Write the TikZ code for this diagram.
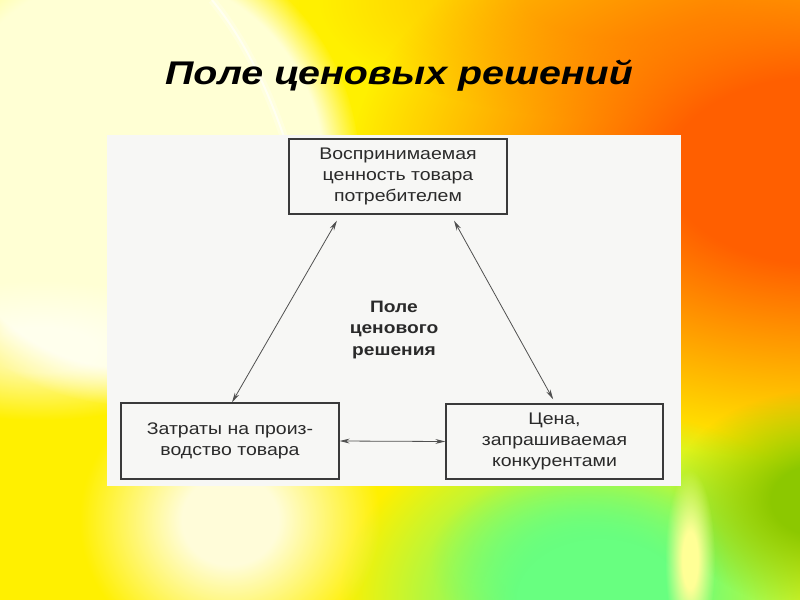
\documentclass[tikz,border=0pt]{standalone}
\usepackage{fontspec}
\setmainfont{Liberation Sans}
\newfontfamily\boxfont[FakeStretch=1.16]{Liberation Sans}
\newfontfamily\titlefont[FakeStretch=1.2]{Liberation Sans}
\usetikzlibrary{arrows.meta,fadings}
\pgfdeclareradialshading{softglowshade}{\pgfpointorigin}{color(0bp)=(pgftransparent!0); color(8bp)=(pgftransparent!0); color(25bp)=(pgftransparent!100); color(50bp)=(pgftransparent!100)}
\pgfdeclarefading{softglow}{\pgfuseshading{softglowshade}}
\pgfdeclareradialshading{hardglowshade}{\pgfpointorigin}{color(0bp)=(pgftransparent!0); color(21bp)=(pgftransparent!0); color(25bp)=(pgftransparent!100); color(50bp)=(pgftransparent!100)}
\pgfdeclarefading{hardglow}{\pgfuseshading{hardglowshade}}
\definecolor{bgyellow}{RGB}{255,240,0}
\definecolor{bgorange}{RGB}{255,95,0}
\definecolor{bgamber}{RGB}{255,170,0}
\definecolor{bggreen}{RGB}{104,255,128}
\definecolor{bgdgreen}{RGB}{140,200,0}
\definecolor{bgpale}{RGB}{255,255,212}
\definecolor{bgpaleyel}{RGB}{255,255,150}
\definecolor{panelc}{RGB}{247,247,245}
\definecolor{inkc}{RGB}{42,42,42}
\definecolor{framec}{RGB}{58,58,58}
\definecolor{linec}{RGB}{80,80,80}
\tikzset{
  box/.style={draw=framec, line width=0.9pt, fill=panelc, text=inkc, align=center,
    font=\boxfont\fontsize{12.6pt}{15.9pt}\selectfont, inner sep=0pt},
  centertext/.style={text=inkc, align=center,
    font=\boxfont\bfseries\fontsize{12.4pt}{15.9pt}\selectfont},
  dblarrow/.style={draw=linec, line width=0.6pt,
    {Stealth[length=7.5pt,width=3.6pt]}-{Stealth[length=7.5pt,width=3.6pt]}},
  titletext/.style={font=\titlefont\bfseries\itshape\fontsize{24.6pt}{29pt}\selectfont, text=black}
}
\begin{document}
\begin{tikzpicture}[x=0.75pt,y=-0.75pt]
\useasboundingbox (0,0) rectangle (800,600);
\begin{scope}
\clip (0,0) rectangle (800,600);
% background
\fill[bgyellow] (0,0) rectangle (800,600);
\fill[bgpaleyel, path fading=softglow] (0,0) ellipse [x radius=300, y radius=260];
\fill[bgamber, path fading=softglow, opacity=0.7] (620,0) ellipse [x radius=300, y radius=120];
\fill[bgorange, path fading=softglow] (820,170) ellipse [x radius=470, y radius=290];
\fill[bggreen, path fading=softglow] (600,600) ellipse [x radius=260, y radius=190];
\fill[bggreen, path fading=softglow, opacity=0.8] (580,560) ellipse [x radius=150, y radius=90];
\fill[bgdgreen, path fading=softglow] (820,500) ellipse [x radius=150, y radius=110];
\fill[bgpale, path fading=hardglow] (130,170) ellipse [x radius=230, y radius=235];
\fill[white, path fading=softglow, opacity=0.6] (40,350) ellipse [x radius=170, y radius=70];
\fill[white, path fading=softglow, opacity=0.85] (230,520) ellipse [x radius=150, y radius=140];
\fill[bgpaleyel, path fading=softglow] (690,560) ellipse [x radius=25, y radius=90];
\draw[white, line width=6pt, opacity=0.25] (212,0) .. controls (245,40) and (268,90) .. (285,140);
\draw[white, line width=1.5pt, opacity=0.6] (212,0) .. controls (245,40) and (268,90) .. (285,140);
\end{scope}
% title
\node[titletext, anchor=base] (title) at (399,84) {Поле ценовых решений};
% panel
\fill[panelc] (107,135) rectangle (681,486);
% boxes
\node[box, minimum width=218*0.75pt, minimum height=75*0.75pt] (top) at (398,176.5)
  {Воспринимаемая\\ценность товара\\потребителем};
\node[box, minimum width=218*0.75pt, minimum height=76*0.75pt] (left) at (230,441)
  {Затраты на произ-\\водство товара};
\node[box, minimum width=217*0.75pt, minimum height=75*0.75pt] (right) at (554.5,441.5)
  {Цена,\\запрашиваемая\\конкурентами};
\node[centertext] (center) at (394,330) {Поле\\ценового\\решения};
% connectors
\draw[dblarrow] ([xshift=1.5pt]left.north) -- ([xshift=-45.8pt,yshift=-4.5pt]top.south);
\draw[dblarrow] ([xshift=42pt,yshift=-4.5pt]top.south) -- ([xshift=-1pt,yshift=3pt]right.north);
\draw[dblarrow] (left.east) -- (right.west);
\end{tikzpicture}
\end{document}
